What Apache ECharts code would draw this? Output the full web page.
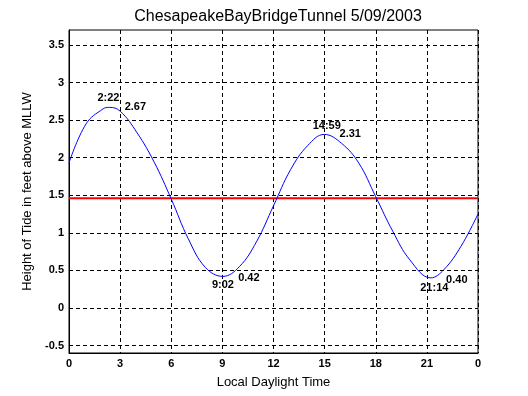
<!DOCTYPE html>
<html>
<head>
<meta charset="utf-8">
<script src="https://cdn.jsdelivr.net/npm/echarts@6/dist/echarts.min.js"></script>
<style>html,body{margin:0;padding:0;background:#fff}#c{width:528px;height:396px}</style>
</head>
<body>
<div id="c"></div>
<script>
// Tide curve: hour of day, height (ft)
const hours   = [0, 1, 2, 2.37, 3, 4, 5, 6, 7, 8, 9.03, 10, 11, 12, 13, 14, 14.98, 16, 17, 18, 19, 20, 21.23, 22, 23, 24];
const heights = [1.93, 2.45, 2.65, 2.67, 2.62, 2.33, 1.94, 1.45, 0.92, 0.54, 0.42, 0.55, 0.88, 1.36, 1.84, 2.16, 2.31, 2.19, 1.93, 1.48, 1.02, 0.64, 0.40, 0.51, 0.82, 1.25];
// Reference (red) level
const refLevel = 1.46;
// Annotated extremes
const extremeHours  = [2.37, 9.03, 14.98, 21.23];
const extremeValues = [2.67, 0.42, 2.31, 0.40];
const extremeTimes  = ['2:22', '9:02', '14:59', '21:14'];
// Axis tick labels
const xTickLabels = ['0', '3', '6', '9', '12', '15', '18', '21', '0'];
const yTicks = [-0.5, 0, 0.5, 1, 1.5, 2, 2.5, 3, 3.5];

const chart = echarts.init(document.getElementById('c'));
const tickFont = {fontFamily: 'Arial', fontWeight: 'bold', fontSize: 11, color: '#000', textBorderWidth: 0};

const timeOffsets  = [[-1, -9], [0, 9], [2.5, -8.5], [3.5, 10]];
const valueOffsets = [[26, 0], [26, 2], [26, 0], [26, 2]];
const timeLabels = extremeHours.map((h, i) => ({
  value: [h, extremeValues[i]],
  label: {show: true, formatter: extremeTimes[i], offset: timeOffsets[i]}
}));
const valueLabels = extremeHours.map((h, i) => ({
  value: [h, extremeValues[i]],
  label: {show: true, formatter: extremeValues[i].toFixed(2), offset: valueOffsets[i]}
}));
const dash = {color: '#000', type: [4, 3], width: 1};

chart.setOption({
  animation: false,
  title: {
    text: 'ChesapeakeBayBridgeTunnel 5/09/2003',
    left: 273, top: 4, textAlign: 'center',
    textStyle: {fontFamily: 'Arial', fontWeight: 'normal', fontSize: 16, color: '#000'}
  },
  grid: {left: 69, right: 50, top: 30, bottom: 43, show: true, borderColor: '#000', borderWidth: 1, backgroundColor: '#fff'},
  xAxis: {
    type: 'value', min: 0, max: 24, interval: 3,
    name: 'Local Daylight Time', nameLocation: 'middle', nameGap: 23,
    nameTextStyle: {fontFamily: 'Arial', fontSize: 13, color: '#000'},
    axisLine: {show: true, onZero: false, lineStyle: {color: '#000', width: 1}},
    axisTick: {show: false},
    axisLabel: Object.assign({margin: 5, formatter: v => xTickLabels[Math.round(v / 3)]}, tickFont),
    splitLine: {show: true, lineStyle: dash}
  },
  yAxis: {
    type: 'value', min: -0.6, max: 3.7, interval: 0.1,
    name: 'Height of Tide in feet above MLLW', nameLocation: 'middle', nameGap: 26,
    nameTextStyle: {fontFamily: 'Arial', fontSize: 13, color: '#000'},
    axisLine: {show: true, onZero: false, lineStyle: {color: '#000', width: 1}},
    axisTick: {show: false},
    axisLabel: Object.assign({margin: 5,
      formatter: v => {
        const t = yTicks.find(t => Math.abs(t - v) < 1e-4);
        return t === undefined ? '' : String(t);
      }}, tickFont),
    splitLine: {show: false}
  },
  series: [
    {
      type: 'line', data: [], symbol: 'none', silent: true, z: 2,
      markLine: {
        silent: true, symbol: 'none', animation: false,
        label: {show: false},
        lineStyle: dash,
        data: yTicks.map(t => ({yAxis: t}))
      }
    },
    {
      type: 'line', data: [[0, refLevel], [24, refLevel]], symbol: 'none', silent: true,
      lineStyle: {color: '#ff0000', width: 2}, z: 3
    },
    {
      type: 'line', data: hours.map((h, i) => [h, heights[i]]), symbol: 'none', smooth: 0.4,
      lineStyle: {color: '#0000ff', width: 1}, z: 4
    },
    {
      type: 'scatter', data: timeLabels, symbolSize: 0, z: 5, itemStyle: {opacity: 1},
      label: Object.assign({position: 'inside'}, tickFont)
    },
    {
      type: 'scatter', data: valueLabels, symbolSize: 0, z: 5, itemStyle: {opacity: 1},
      label: Object.assign({position: 'inside'}, tickFont)
    }
  ]
});
</script>
</body>
</html>
